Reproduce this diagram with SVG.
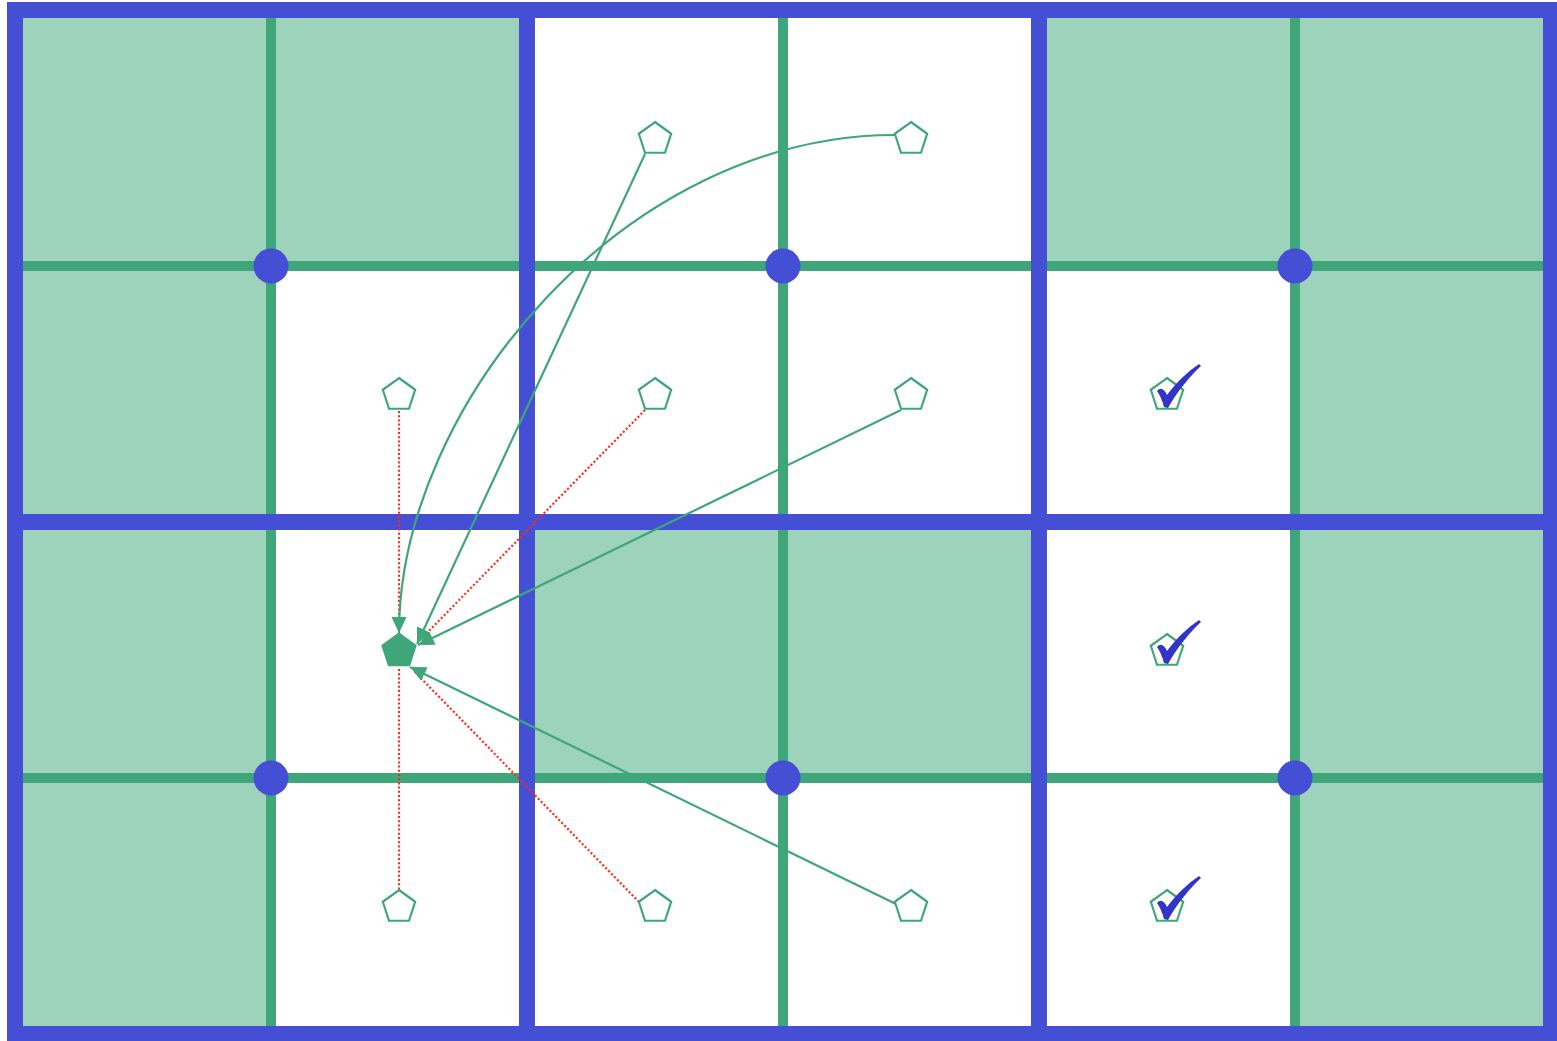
<svg xmlns="http://www.w3.org/2000/svg" width="1557" height="1041" viewBox="0 0 1557 1041">
  <style>
    .cell { fill: #9dd3bb; }
    .gline { stroke: #3fa67a; stroke-width: 10; }
    .bline { stroke: #444fd6; stroke-width: 16; }
    .dot { fill: #444fd6; }
    .pent { fill: #ffffff; stroke: #3fa67a; stroke-width: 2.2; }
    .pentf { fill: #3fa67a; }
    .edge { fill: none; stroke: #3fa67a; stroke-width: 2.2; }
    .dotted { fill: none; stroke: #ff2a14; stroke-width: 2.2; stroke-dasharray: 2 2.2; }
    .check { fill: #3434c8; }
  </style>
  <defs>
    <marker id="arrow" markerUnits="userSpaceOnUse" markerWidth="18" markerHeight="16" refX="16" refY="7.5" orient="auto">
      <path d="M0,0 L16,7.5 L0,15 Z" fill="#3fa67a"/>
    </marker>
    <polygon id="pg" points="0,-17 16.17,-5.25 9.99,13.75 -9.99,13.75 -16.17,-5.25"/>
    <path id="ck" d="M-10,-3 C-7,-7 -3,-6 0,1 C9,-11 20,-22 32,-30 L34,-28 C22,-17 10,-2 1,14 L-3,13 C-5,6 -7,1 -10,-3 Z"/>
  </defs>

  <g id="background">
    <rect x="0" y="0" width="1557" height="1041" fill="#ffffff"/>
    <rect class="cell" x="15" y="10" width="512" height="256"/>
    <rect class="cell" x="1039" y="10" width="512" height="256"/>
    <rect class="cell" x="15" y="266" width="256" height="768"/>
    <rect class="cell" x="1295" y="266" width="256" height="768"/>
    <rect class="cell" x="527" y="522" width="512" height="256"/>
  </g>

  <g id="grid">
    <line class="gline" x1="271" y1="10" x2="271" y2="1034"/>
    <line class="gline" x1="783" y1="10" x2="783" y2="1034"/>
    <line class="gline" x1="1295" y1="10" x2="1295" y2="1034"/>
    <line class="gline" x1="15" y1="266" x2="1551" y2="266"/>
    <line class="gline" x1="15" y1="778" x2="1551" y2="778"/>
    <line class="bline" x1="527" y1="10" x2="527" y2="1034"/>
    <line class="bline" x1="1039" y1="10" x2="1039" y2="1034"/>
    <line class="bline" x1="15" y1="522" x2="1551" y2="522"/>
    <rect x="15" y="10" width="1536" height="1024" fill="none" stroke="#444fd6" stroke-width="16"/>
    <circle class="dot" cx="271" cy="266" r="17.5"/>
    <circle class="dot" cx="783" cy="266" r="17.5"/>
    <circle class="dot" cx="1295" cy="266" r="17.5"/>
    <circle class="dot" cx="271" cy="778" r="17.5"/>
    <circle class="dot" cx="783" cy="778" r="17.5"/>
    <circle class="dot" cx="1295" cy="778" r="17.5"/>
  </g>

  <g id="connectors">
    <line class="dotted" x1="399" y1="411" x2="399" y2="631"/>
    <line class="dotted" x1="399" y1="669" x2="399" y2="891"/>
    <line class="dotted" x1="645" y1="410" x2="423" y2="637"/>
    <line class="dotted" x1="639" y1="902" x2="414" y2="671"/>
    <line class="edge" x1="645" y1="154" x2="417" y2="644" marker-end="url(#arrow)"/>
    <path class="edge" d="M895,135 C625,135 399,405 399,633" marker-end="url(#arrow)"/>
    <line class="edge" x1="901" y1="410" x2="418" y2="645" marker-end="url(#arrow)"/>
    <line class="edge" x1="896" y1="904" x2="410" y2="667" marker-end="url(#arrow)"/>
  </g>

  <g id="node-target"><use href="#pg" class="pentf" transform="translate(399,651) scale(1.1)"/></g>
  <g id="node-r0c2"><use href="#pg" class="pent" x="655" y="139"/></g>
  <g id="node-r0c3"><use href="#pg" class="pent" x="911" y="139"/></g>
  <g id="node-r1c1"><use href="#pg" class="pent" x="399" y="395"/></g>
  <g id="node-r1c2"><use href="#pg" class="pent" x="655" y="395"/></g>
  <g id="node-r1c3"><use href="#pg" class="pent" x="911" y="395"/></g>
  <g id="node-r1c4"><use href="#pg" class="pent" x="1167" y="395"/><use href="#ck" class="check" x="1167" y="394"/></g>
  <g id="node-r2c4"><use href="#pg" class="pent" x="1167" y="651"/><use href="#ck" class="check" x="1167" y="650"/></g>
  <g id="node-r3c1"><use href="#pg" class="pent" x="399" y="907"/></g>
  <g id="node-r3c2"><use href="#pg" class="pent" x="655" y="907"/></g>
  <g id="node-r3c3"><use href="#pg" class="pent" x="911" y="907"/></g>
  <g id="node-r3c4"><use href="#pg" class="pent" x="1167" y="907"/><use href="#ck" class="check" x="1167" y="906"/></g>
</svg>
